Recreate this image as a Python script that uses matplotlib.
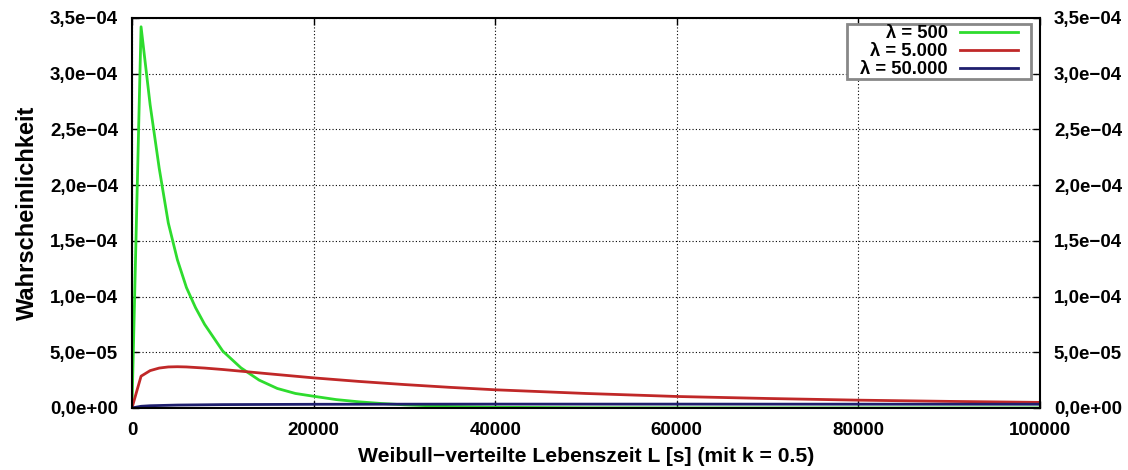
import matplotlib
matplotlib.use("Agg")
import matplotlib.pyplot as plt
from matplotlib.patches import Rectangle
from matplotlib.ticker import FuncFormatter, MultipleLocator

plt.rcParams['font.family'] = ['Liberation Sans', 'DejaVu Sans']
plt.rcParams['font.weight'] = 'bold'

# Lebenszeit L [s]
x_500 = [0, 1000, 2000, 3000, 4000, 5000, 6000, 7000, 8000, 10000, 12000,
         14000, 16000, 18000, 20000, 22500, 25000, 27500, 30000, 35000,
         40000, 50000, 60000, 80000, 100000]
y_500 = [0, 3.42e-4, 2.72e-4, 2.15e-4, 1.66e-4, 1.33e-4, 1.08e-4, 9.0e-5,
         7.5e-5, 5.1e-5, 3.6e-5, 2.5e-5, 1.75e-5, 1.3e-5, 1.05e-5, 7.5e-6,
         5.5e-6, 4.0e-6, 2.8e-6, 1.3e-6, 6e-7, 1.5e-7, 4e-8, 0, 0]

x_5000 = [0, 1000, 2000, 3000, 4000, 5000, 6000, 8000, 10000, 12000, 15000,
          20000, 25000, 30000, 35000, 40000, 50000, 60000, 70000, 80000,
          90000, 100000]
y_5000 = [0, 2.85e-5, 3.35e-5, 3.58e-5, 3.68e-5, 3.70e-5, 3.68e-5, 3.58e-5,
          3.45e-5, 3.30e-5, 3.07e-5, 2.70e-5, 2.38e-5, 2.10e-5, 1.85e-5,
          1.63e-5, 1.30e-5, 1.03e-5, 8.5e-6, 7.0e-6, 5.9e-6, 5.0e-6]

x_50000 = [0, 1000, 2000, 5000, 10000, 20000, 30000, 40000, 60000, 80000,
           100000]
y_50000 = [0, 1.5e-6, 2.0e-6, 2.6e-6, 3.0e-6, 3.3e-6, 3.4e-6, 3.45e-6,
           3.45e-6, 3.4e-6, 3.35e-6]

labels = ['λ = 500', 'λ = 5.000', 'λ = 50.000']
colors = ['#2edc2e', '#c02828', '#1e1e6e']

fig = plt.figure(figsize=(11.28, 4.70), dpi=100)
ax = fig.add_axes([0.117, 0.132, 0.805, 0.830])

ax.plot(x_500, y_500, color=colors[0], lw=2, label=labels[0])
ax.plot(x_5000, y_5000, color=colors[1], lw=2, label=labels[1])
ax.plot(x_50000, y_50000, color=colors[2], lw=2, label=labels[2])

ax.set_xlim(0, 100000)
ax.set_ylim(0, 3.5e-4)
ax.xaxis.set_major_locator(MultipleLocator(20000))
ax.yaxis.set_major_locator(MultipleLocator(5e-5))


def sci_komma(v, pos):
    return f"{v:.1e}".replace('.', ',').replace('-', '\u2212')


ax.yaxis.set_major_formatter(FuncFormatter(sci_komma))
ax.xaxis.set_major_formatter(FuncFormatter(lambda v, pos: f"{v:.0f}"))

ax.tick_params(direction='in', length=5, width=1, top=True, right=True,
               labelright=True, labelsize=13.5)
ax.tick_params(axis='y', pad=10)
ax.tick_params(axis='x', pad=10)

ax.grid(True, linestyle=(0, (1, 2)), color='black', lw=0.8)
for sp in ax.spines.values():
    sp.set_linewidth(1.5)

ax.set_xlabel('Weibull\u2212verteilte Lebenszeit L [s] (mit k = 0.5)',
              fontsize=15.2, fontweight='bold', labelpad=6)
ax.set_ylabel('Wahrscheinlichkeit', fontsize=17, fontweight='bold',
              labelpad=8)

leg = ax.legend(loc='upper right', bbox_to_anchor=(0.976, 0.981),
                markerfirst=False, frameon=False,
                handlelength=3.2, handletextpad=0.65, labelspacing=0.05,
                borderpad=0.0, borderaxespad=0,
                prop={'weight': 'bold', 'size': 13.2})

# grauer Rahmen um die Legende, seitlich etwas breiter als der Inhalt
fig.canvas.draw()
bb = leg.get_window_extent().transformed(ax.transAxes.inverted())
dx = 13 / ax.bbox.width
dy = 1 / ax.bbox.height
ax.add_patch(Rectangle((bb.x0 - dx, bb.y0 - dy), bb.width + 2 * dx,
                       bb.height + 2 * dy, transform=ax.transAxes,
                       facecolor='white', edgecolor='#888888', lw=2,
                       zorder=4.5))

fig.savefig('out.png', dpi=100)
